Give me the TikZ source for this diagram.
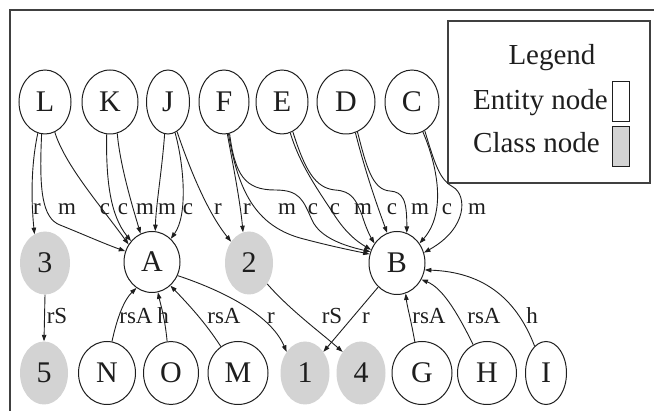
\documentclass[tikz,border=0pt]{standalone}
\usepackage{fontspec}
\setmainfont{Liberation Serif}
\usetikzlibrary{shapes.geometric,arrows.meta}
\definecolor{clsgray}{RGB}{211,211,211}
\definecolor{ink}{RGB}{30,30,30}
\begin{document}
\begin{tikzpicture}[x=1pt,y=-1pt,
  ent/.style={ellipse, draw=ink, line width=1pt, inner sep=0pt, minimum height=63pt,
    text=ink, font=\fontsize{30}{31}\selectfont},
  cls/.style={ellipse, fill=clsgray, inner sep=0pt, minimum height=63pt,
    text=ink, font=\fontsize{30}{31}\selectfont},
  conn/.style={draw=ink, line width=0.9pt, -{Triangle[length=6.5pt,width=4.5pt]}},
  lbl/.style={anchor=base, inner sep=0pt, text=ink, font=\fontsize{23}{24}\selectfont},
  legtext/.style={inner sep=0pt, text=ink, font=\fontsize{29}{30}\selectfont},
  frame/.style={draw=ink!85, line width=1.3pt}]
\useasboundingbox (0,0) rectangle (654,411);

% outer frame
\draw[frame] (10,411) -- (10,10) -- (654,10);

% legend
\draw[frame] (448,21) rectangle (650,183);
\node[legtext, anchor=base] (legtitle) at (552,65) {Legend};
\node[legtext, anchor=base west] (legent) at (473,110) {Entity node};
\node[legtext, anchor=base west] (legcls) at (473,153) {Class node};
\draw[draw=ink, line width=1pt] (612,82) rectangle (629,122);
\draw[draw=ink, line width=1pt, fill=clsgray] (612,127) rectangle (629,167);

% top row
\node[ent, minimum width=52pt, minimum height=64pt] (L) at (45,102) {L};
\node[ent, minimum width=56pt, minimum height=64pt] (K) at (110,102) {K};
\node[ent, minimum width=43pt, minimum height=64pt] (J) at (168,102) {J};
\node[ent, minimum width=50pt, minimum height=64pt] (F) at (224,102) {F};
\node[ent, minimum width=52pt, minimum height=64pt] (E) at (282,102) {E};
\node[ent, minimum width=58pt, minimum height=64pt] (D) at (346,102) {D};
\node[ent, minimum width=54pt, minimum height=64pt] (C) at (412,102) {C};

% middle row
\node[cls, minimum width=50pt] (n3) at (45,263) {3};
\node[ent, minimum width=56pt, minimum height=61pt] (A) at (152,262) {A};
\node[cls, minimum width=48pt] (n2) at (249,263) {2};
\node[ent, minimum width=56pt] (B) at (397,263) {B};

% bottom row
\node[cls, minimum width=48pt] (n5) at (44,373) {5};
\node[ent, minimum width=57pt] (N) at (107,373) {N};
\node[ent, minimum width=55pt] (O) at (171,373) {O};
\node[ent, minimum width=60pt] (M) at (238,373) {M};
\node[cls, minimum width=49pt] (n1) at (305,373) {1};
\node[cls, minimum width=49pt] (n4) at (361,373) {4};
\node[ent, minimum width=60pt] (G) at (422,373) {G};
\node[ent, minimum width=59pt] (H) at (487,373) {H};
\node[ent, minimum width=41pt] (I) at (546,373) {I};

% edges from the top row
\draw[conn] (L.-103) .. controls (31,165) and (31,200) .. (n3.110);
\draw[conn] (L.-96) .. controls (39,190) and (42,218) .. (60,225)
                    .. controls (80,233) and (105,244) .. (A.158);
\draw[conn] (L.-72) .. controls (65,165) and (100,205) .. (A.143);
\draw[conn] (K.-96) .. controls (106,180) and (110,215) .. (A.135);
\draw[conn] (K.-77) .. controls (120,165) and (132,205) .. (A.112);
\draw[conn] (J.-96) .. controls (162,170) and (156,205) .. (A.84);
\draw[conn] (J.-77) .. controls (184,165) and (188,215) .. (A.51);
\draw[conn] (J.-73) .. controls (190,170) and (208,213) .. (n2.130);
\draw[conn] (F.-84) .. controls (233,165) and (240,200) .. (n2.101);
\draw[conn] (F.-82) .. controls (238,190) and (255,225) .. (300,238)
                    .. controls (330,246) and (350,250) .. (B.162);
\draw[conn] (F.-80) .. controls (235,175) and (245,190) .. (275,190)
                    .. controls (300,190) and (303,200) .. (312,220)
                    .. controls (320,238) and (345,246) .. (B.157);
\draw[conn] (E.-75) .. controls (300,165) and (318,190) .. (333,213)
                    .. controls (345,232) and (356,241) .. (B.153);
\draw[conn] (E.-70) .. controls (305,170) and (315,188) .. (335,190)
                    .. controls (352,191) and (356,200) .. (362,215)
                    .. controls (366,228) and (370,236) .. (B.139);
\draw[conn] (D.-73) .. controls (365,170) and (375,200) .. (B.108);
\draw[conn] (D.-69) .. controls (366,165) and (372,190) .. (390,191)
                    .. controls (403,192) and (407,200) .. (B.72);
\draw[conn] (C.-70) .. controls (437,165) and (447,212) .. (B.41);
\draw[conn] (C.-66) .. controls (435,165) and (440,180) .. (453,187)
                    .. controls (467,195) and (468,228) .. (B.21);

% labels of the top edges
\node[lbl] (t1) at (37,215) {r};
\node[lbl] (t2) at (67,215) {m};
\node[lbl] (t3) at (105,215) {c};
\node[lbl] (t4) at (123,215) {c};
\node[lbl] (t5) at (145,215) {m};
\node[lbl] (t6) at (167,215) {m};
\node[lbl] (t7) at (188,215) {c};
\node[lbl] (t8) at (218,215) {r};
\node[lbl] (t9) at (247,215) {r};
\node[lbl] (t10) at (287,215) {m};
\node[lbl] (t11) at (313,215) {c};
\node[lbl] (t12) at (335,215) {c};
\node[lbl] (t13) at (363,215) {m};
\node[lbl] (t14) at (392,215) {c};
\node[lbl] (t15) at (420,215) {m};
\node[lbl] (t16) at (447,215) {c};
\node[lbl] (t17) at (477,215) {m};

% edges between middle and bottom rows
\draw[conn] (n3.south) -- (n5.north);
\draw[conn] (N.81) .. controls (117,318) and (124,300) .. (A.-121);
\draw[conn] (O.97) .. controls (165,318) and (160,302) .. (A.-79);
\draw[conn] (M.123) .. controls (205,322) and (188,304) .. (A.-52);
\draw[conn] (A.-28) .. controls (218,289) and (270,313) .. (n1.131);
\draw[conn] (n2.-49) .. controls (290,310) and (320,332) .. (n4.131);
\draw[conn] (B.-128) -- (n1.49);
\draw[conn] (G.103) .. controls (411,320) and (407,306) .. (B.-74);
\draw[conn] (H.116) .. controls (456,310) and (442,288) .. (B.-34);
\draw[conn] (I.113) .. controls (515,295) and (480,272) .. (B.-14);

% labels of the lower edges
\node[lbl] (b1) at (57,324) {rS};
\node[lbl] (b2) at (136,324) {rsA};
\node[lbl] (b3) at (163,324) {h};
\node[lbl] (b4) at (224,324) {rsA};
\node[lbl] (b5) at (271,324) {r};
\node[lbl] (b6) at (332,324) {rS};
\node[lbl] (b7) at (366,324) {r};
\node[lbl] (b8) at (429,324) {rsA};
\node[lbl] (b9) at (484,324) {rsA};
\node[lbl] (b10) at (532,324) {h};
\end{tikzpicture}
\end{document}
